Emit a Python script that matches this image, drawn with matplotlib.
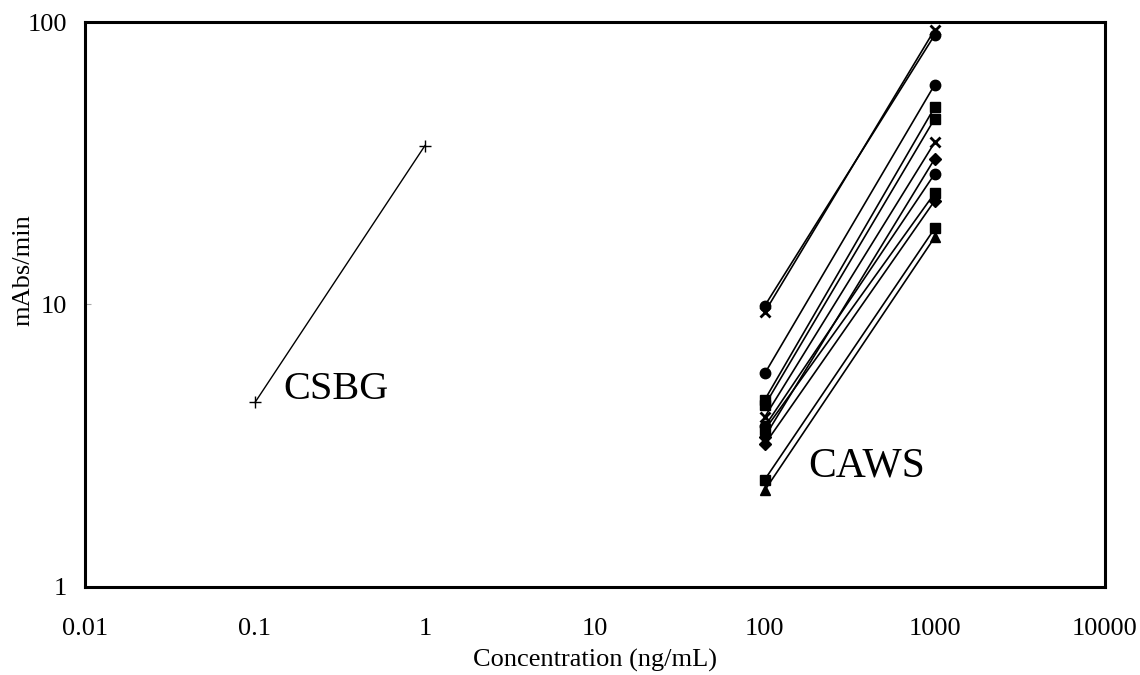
from matplotlib import pyplot as plt
from matplotlib.ticker import FixedLocator, FuncFormatter, NullLocator
import numpy as np

plt.rcParams['font.family'] = ['Liberation Serif', 'DejaVu Serif']

# CSBG standard curve
csbg_conc = [0.1, 1]
csbg_resp = [4.5, 36.5]

# CAWS samples: response at 100 and 1000 ng/mL
caws_conc = [100, 1000]
caws_low = [9.9, 9.4, 5.7, 4.6, 4.4, 4.0, 3.7, 3.6, 3.4, 3.2, 2.4, 2.2]
caws_high = [90, 94, 60, 50, 45.5, 37.5, 29, 24.8, 32.8, 23.3, 18.6, 17.3]
caws_marker = ['o', 'x', 'o', 's', 's', 'x', 'o', 's', 'D', 'D', 's', '^']

fig = plt.figure(figsize=(11.4, 6.75), dpi=100)
ax = fig.add_axes([0.0746, 0.1304, 0.8944, 0.837])

ax.plot(csbg_conc, csbg_resp, color='k', lw=1, marker='+', ms=8, mew=1)

for lo, hi, m in zip(caws_low, caws_high, caws_marker):
    ms = 6 if m == 'D' else 7.5
    ax.plot(caws_conc, [lo, hi], color='k', lw=1.2, marker=m, ms=ms, mew=2 if m == 'x' else 1,
            mfc='k', mec='k')

ax.set_xscale('log')
ax.set_yscale('log')
ax.set_xlim(0.01, 10000)
ax.set_ylim(1, 100)

fmt = FuncFormatter(lambda v, p: '%g' % v)
ax.xaxis.set_major_locator(FixedLocator([0.01, 0.1, 1, 10, 100, 1000, 10000]))
ax.yaxis.set_major_locator(FixedLocator([1, 10, 100]))
ax.xaxis.set_major_formatter(fmt)
ax.yaxis.set_major_formatter(fmt)
ax.xaxis.set_minor_locator(NullLocator())
ax.yaxis.set_minor_locator(NullLocator())
ax.tick_params(axis='x', length=0, pad=22, labelsize=19)
ax.tick_params(axis='y', length=4, direction='in', color='#aaaaaa', pad=13, labelsize=19)

for s in ax.spines.values():
    s.set_linewidth(2.2)

ax.text(0.146, 5.0, 'CSBG', fontsize=29, va='center', ha='left')
ax.text(180, 2.68, 'CAWS', fontsize=30, va='center', ha='left')

ax.set_xlabel('Concentration (ng/mL)', fontsize=19)
ax.set_ylabel('mAbs/min', fontsize=19)
ax.xaxis.set_label_coords(0.5, -0.13)
ax.yaxis.set_label_coords(-0.06, 0.56)
ax.xaxis.label.set_va('center')
ax.yaxis.label.set_va('center')

fig.savefig('out.png', dpi=100)
